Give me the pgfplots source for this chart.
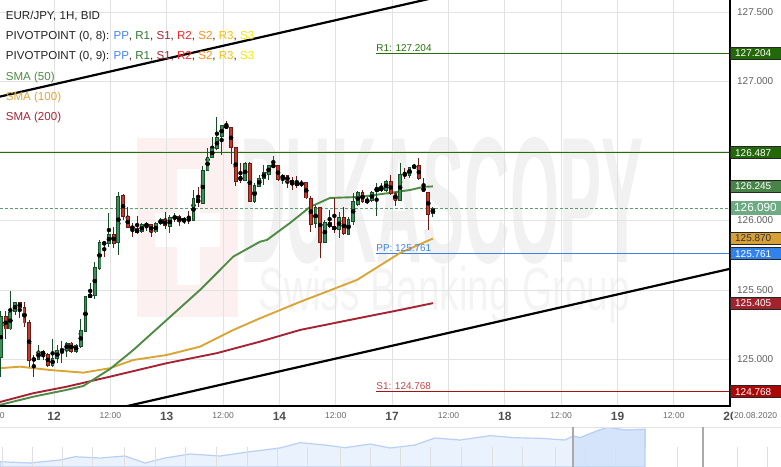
\documentclass[border=0pt]{standalone}
\usepackage{pgfplots}
\pgfplotsset{compat=1.18}
\usepackage{pgfplotstable}
\usepackage{graphicx}
\usepackage{fontspec}
\setmainfont{Liberation Sans}

\definecolor{upfill}{RGB}{66,140,92}
\definecolor{upedge}{RGB}{22,78,40}
\definecolor{dnfill}{RGB}{196,58,44}
\definecolor{dnedge}{RGB}{105,28,22}
\definecolor{gridgray}{RGB}{226,226,226}
\definecolor{tickgray}{RGB}{95,95,95}
\definecolor{daygray}{RGB}{80,80,80}
\definecolor{hrgray}{RGB}{105,105,105}
\definecolor{r1col}{RGB}{38,110,12}
\definecolor{ppcol}{RGB}{60,130,230}
\definecolor{s1col}{RGB}{165,20,20}
\definecolor{s1txt}{RGB}{195,70,70}
\definecolor{curcol}{RGB}{95,155,115}
\definecolor{smaA}{RGB}{78,140,68}
\definecolor{smaB}{RGB}{218,165,55}
\definecolor{smaC}{RGB}{165,35,50}
\definecolor{boxA}{RGB}{35,105,10}
\definecolor{boxB}{RGB}{72,132,72}
\definecolor{boxC}{RGB}{110,170,132}
\definecolor{boxD}{RGB}{215,160,55}
\definecolor{boxE}{RGB}{50,130,235}
\definecolor{boxF}{RGB}{160,35,45}
\definecolor{boxG}{RGB}{170,8,8}
\definecolor{lgdark}{RGB}{35,35,35}
\definecolor{ppleg}{RGB}{66,133,244}
\definecolor{r1leg}{RGB}{45,120,45}
\definecolor{s1leg}{RGB}{175,35,50}
\definecolor{r2leg}{RGB}{250,40,40}
\definecolor{s2leg}{RGB}{255,140,30}
\definecolor{r3leg}{RGB}{250,190,0}
\definecolor{s3leg}{RGB}{245,230,0}
\definecolor{wmpink}{RGB}{253,240,240}
\definecolor{wmgray}{RGB}{241,241,241}
\definecolor{wmgray2}{RGB}{244,244,244}
\definecolor{navfill}{RGB}{234,242,253}
\definecolor{navsel}{RGB}{213,228,250}
\definecolor{navline}{RGB}{185,208,245}
\definecolor{navtick}{RGB}{222,222,222}
\definecolor{navdiv}{RGB}{170,170,170}

\newcommand\lgfont{\fontsize{11.6}{13}\selectfont}
\newcommand\boxfont{\fontsize{10}{10}\selectfont}
\newcommand\dayfont{\fontsize{12}{12}\selectfont\bfseries}
\newcommand\hrfont{\fontsize{8.6}{9}\selectfont}
\newcommand\dl[1]{{\dayfont\color{daygray}#1}}
\newcommand\hl{{\hrfont\color{hrgray}12:00}}
\newcommand\pivline[1]{PIVOTPOINT (0, #1): \textcolor{ppleg}{PP}, \textcolor{r1leg}{R1}, \textcolor{s1leg}{S1}, \textcolor{r2leg}{R2}, \textcolor{s2leg}{S2}, \textcolor{r3leg}{R3}, \textcolor{s3leg}{S3}}
\newcommand\pricebox[4]{%
  \draw[fill=#2, draw=black!85, line width=0.8bp] ([xshift=0.5bp,yshift=-6bp]#1) rectangle ([xshift=51.5bp,yshift=6bp]#1);
  \node[anchor=west, inner sep=0pt, text=#3, font=\boxfont] at ([xshift=5bp]#1) {#4};}

% hourly candles: x = hour index (weekend removed), open high low close
\pgfplotstableread{
x o h l c
12.7 125.009 125.349 124.872 125.313
14.7 125.217 125.493 125.215 125.344
15.7 125.340 125.415 125.320 125.412
19.7 124.991 125.032 124.872 125.009
20.7 125.000 125.104 124.996 125.061
23.7 124.955 125.145 124.944 125.009
24.7 125.004 125.104 124.973 125.068
25.7 125.056 125.135 124.977 125.076
26.7 125.063 125.128 125.016 125.121
28.7 125.056 125.109 125.049 125.104
29.7 125.092 125.289 125.081 125.212
30.7 125.200 125.457 125.196 125.457
31.7 125.445 125.548 125.440 125.471
32.7 125.460 125.704 125.440 125.668
33.7 125.649 125.860 125.644 125.847
35.7 125.829 126.052 125.812 125.903
37.7 125.836 126.207 125.752 126.178
42.7 125.915 125.984 125.912 125.973
43.7 125.963 125.991 125.927 125.973
45.7 125.915 125.991 125.912 125.980
46.7 125.973 126.020 125.968 126.009
48.7 125.955 126.040 125.912 126.023
49.7 126.011 126.052 125.991 126.032
51.7 125.991 126.023 125.975 126.016
53.7 125.999 126.219 125.997 126.160
55.7 126.119 126.392 126.119 126.363
56.7 126.356 126.519 126.356 126.459
57.7 126.452 126.599 126.447 126.519
58.7 126.512 126.742 126.507 126.599
59.7 126.599 126.687 126.471 126.687
64.7 126.286 126.419 126.284 126.412
66.7 126.131 126.272 126.128 126.255
67.7 126.243 126.327 126.243 126.308
68.7 126.299 126.399 126.255 126.347
69.7 126.332 126.399 126.291 126.399
70.7 126.387 126.464 126.376 126.399
72.7 126.299 126.335 126.263 126.327
76.7 126.250 126.291 126.243 126.279
79.7 125.973 126.112 125.944 126.095
81.7 125.840 126.004 125.840 125.991
84.7 125.932 126.063 125.872 126.023
86.7 125.896 126.027 125.896 126.011
87.7 125.991 126.196 125.968 126.140
88.7 126.112 126.214 126.107 126.203
90.7 126.126 126.171 126.119 126.153
91.7 126.140 126.214 126.135 126.205
92.7 126.205 126.268 126.032 126.241
94.7 126.214 126.291 126.207 126.286
97.7 126.142 126.412 126.142 126.335
99.7 126.322 126.387 126.304 126.387
100.7 126.376 126.406 126.369 126.399
104.7 126.045 126.099 126.027 126.090
}\upcandles

\pgfplotstableread{
x o h l c
13.7 125.313 125.349 125.145 125.217
16.7 125.412 125.415 125.296 125.368
17.7 125.376 125.412 125.236 125.260
18.7 125.268 125.284 124.948 124.991
21.7 125.061 125.068 124.996 125.027
22.7 125.040 125.049 124.948 124.955
27.7 125.121 125.128 125.049 125.056
34.7 125.843 125.847 125.740 125.829
36.7 125.903 125.951 125.800 125.831
38.7 126.183 126.191 126.004 126.023
39.7 126.032 126.095 125.944 125.948
40.7 125.960 125.984 125.879 125.937
41.7 125.944 126.032 125.903 125.908
44.7 125.973 125.975 125.879 125.915
47.7 126.009 126.063 125.937 125.960
50.7 126.032 126.040 125.963 125.991
52.7 126.016 126.068 125.973 125.999
54.7 126.160 126.243 126.099 126.124
60.7 126.687 126.716 126.658 126.663
61.7 126.671 126.671 126.404 126.519
62.7 126.527 126.527 126.250 126.279
63.7 126.320 126.412 126.272 126.284
65.7 126.412 126.419 126.131 126.131
71.7 126.399 126.399 126.284 126.291
73.7 126.327 126.327 126.232 126.279
74.7 126.291 126.315 126.219 126.263
75.7 126.279 126.320 126.232 126.250
77.7 126.275 126.275 126.153 126.160
78.7 126.160 126.176 125.919 125.968
80.7 126.095 126.099 125.728 125.840
82.7 125.991 126.076 125.944 125.951
83.7 125.960 126.160 125.908 125.932
85.7 126.023 126.095 125.896 125.901
89.7 126.203 126.219 126.126 126.133
93.7 126.241 126.268 126.207 126.214
95.7 126.286 126.327 126.183 126.191
96.7 126.200 126.207 126.107 126.142
98.7 126.340 126.376 126.296 126.322
101.7 126.399 126.447 126.291 126.296
102.7 126.243 126.304 126.203 126.207
103.7 126.207 126.207 125.932 126.040
}\downcandles

\pgfplotstableread{
x y
12.5 124.673
19.59 124.732
26.70 124.781
30.24 124.809
35.92 124.931
40.89 125.068
47.99 125.284
55.09 125.500
62.18 125.740
67.87 125.847
69.36 125.860
74.26 125.982
78.52 126.097
82.78 126.162
89.17 126.169
95.56 126.198
99.82 126.219
102.58 126.241
104.7 126.245
}\smafifty

\pgfplotstableread{
x y
12.5 124.937
16.76 124.948
23.14 124.924
30.24 124.905
35.92 124.937
40.89 124.996
47.99 125.032
55.09 125.092
62.18 125.212
67.87 125.296
76.38 125.414
88.52 125.572
97.68 125.766
104.7 125.870
}\smahundred

\pgfplotstableread{
x y
12.5 124.694
19.59 124.757
26.70 124.804
35.92 124.876
47.99 124.973
58.65 125.045
67.87 125.128
76.38 125.212
89.17 125.299
97.68 125.356
104.7 125.405
}\smatwohundred

\pgfplotstableread{
x y
0 5.3
30 4
60 7
75 10.3
100 9
125 11
145 4
165 9
190 13
220 11
250 15.3
280 19
300 24.3
325 22
345 19.3
370 23
390 19
415 22
435 29
460 27
490 31.3
515 29.3
540 28.7
565 27
573 31
580 29.3
595 35.3
607.5 39.7
625 37
645 37.7
}\navall

\pgfplotstableread{
x y
573 31
580 29.3
595 35.3
607.5 39.7
625 37
645 37.7
}\navselected

\begin{document}
\begin{tikzpicture}
% watermark
\fill[wmpink] (137bp,89bp) rectangle (238bp,268bp);
\fill[white] (177bp,121bp) rectangle (200bp,237bp);
\fill[white] (155bp,159bp) rectangle (220bp,193bp);
\node[anchor=north west, inner sep=0pt, text=wmgray] at (240bp,269bp) {\resizebox{403bp}{125bp}{\bfseries DUKASCOPY}};
\node[anchor=north west, inner sep=0pt, text=wmgray2] at (258bp,140bp) {\resizebox{372bp}{44bp}{Swiss Banking Group}};

\begin{axis}[
  at={(0,0)}, anchor=south west,
  scale only axis, width=730bp, height=406bp,
  xmin=12.5, xmax=167.95, ymin=124.665, ymax=127.586,
  clip mode=individual,
  axis line style={draw=none},
  major tick length=0pt,
  xtick={24,36,...,156},
  xticklabels={\dl{12},\hl,\dl{13},\hl,\dl{14},\hl,\dl{17},\hl,\dl{18},\hl,\dl{19},\hl},
  xticklabel style={anchor=center, inner sep=0pt, yshift=-10bp},
  ytick={125,125.5,126,126.5,127,127.5},
  yticklabels={125.000,125.500,126.000,{},127.000,127.500},
  yticklabel pos=right,
  yticklabel style={anchor=west, inner sep=0pt, xshift=7bp, font=\fontsize{10}{10}\selectfont, text=tickgray},
  grid=major,
  major grid style={draw=gridgray, line width=0.8bp},
]
% pivot and level lines
\addplot[r1col, line width=1.1bp] coordinates {(12.5,126.487) (167.95,126.487)};
\addplot[r1col, line width=1bp] coordinates {(92.6,127.204) (167.95,127.204)};
\addplot[ppcol, line width=1bp] coordinates {(92.6,125.761) (167.95,125.761)};
\addplot[s1col, line width=1bp] coordinates {(92.6,124.768) (167.95,124.768)};
\addplot[curcol, line width=0.8bp, dash pattern=on 3bp off 2bp] coordinates {(12.5,126.090) (167.95,126.090)};
% moving averages
\addplot[smaC, line width=1.9bp] table[x=x,y=y] {\smatwohundred};
\addplot[smaB, line width=1.9bp] table[x=x,y=y] {\smahundred};
\addplot[smaA, line width=1.9bp] table[x=x,y=y] {\smafifty};
% trend channel
\addplot[black, line width=2.2bp] coordinates {(12.5,126.891) (110,127.641)};
\addplot[black, line width=2.2bp] coordinates {(36,124.637) (167.95,125.652)};
% candles: wicks
\addplot[only marks, mark=none, error bars/.cd, y dir=both, y explicit, error mark=none,
  error bar style={line width=1bp, draw=upedge}]
  table[x=x, y expr={(\thisrow{h}+\thisrow{l})/2}, y error expr={(\thisrow{h}-\thisrow{l})/2}] {\upcandles};
\addplot[only marks, mark=none, error bars/.cd, y dir=both, y explicit, error mark=none,
  error bar style={line width=1bp, draw=dnedge}]
  table[x=x, y expr={(\thisrow{h}+\thisrow{l})/2}, y error expr={(\thisrow{h}-\thisrow{l})/2}] {\downcandles};
% candles: bodies (edge)
\addplot[only marks, mark=none, error bars/.cd, y dir=both, y explicit, error mark=none,
  error bar style={line width=3.8bp, draw=upedge}]
  table[x=x, y expr={(\thisrow{o}+\thisrow{c})/2}, y error expr={max(abs(\thisrow{c}-\thisrow{o})/2,0.004)}] {\upcandles};
\addplot[only marks, mark=none, error bars/.cd, y dir=both, y explicit, error mark=none,
  error bar style={line width=3.8bp, draw=dnedge}]
  table[x=x, y expr={(\thisrow{o}+\thisrow{c})/2}, y error expr={max(abs(\thisrow{c}-\thisrow{o})/2,0.004)}] {\downcandles};
% candles: bodies (fill)
\addplot[only marks, mark=none, error bars/.cd, y dir=both, y explicit, error mark=none,
  error bar style={line width=1.9bp, draw=upfill}]
  table[x=x, y expr={(\thisrow{o}+\thisrow{c})/2}, y error expr={max(abs(\thisrow{c}-\thisrow{o})/2-0.0065,0)}] {\upcandles};
\addplot[only marks, mark=none, error bars/.cd, y dir=both, y explicit, error mark=none,
  error bar style={line width=1.9bp, draw=dnfill}]
  table[x=x, y expr={(\thisrow{o}+\thisrow{c})/2}, y error expr={max(abs(\thisrow{c}-\thisrow{o})/2-0.0065,0)}] {\downcandles};
% pivot labels
\node[anchor=south west, inner sep=0pt, yshift=1.5bp, font=\fontsize{10}{10}\selectfont, text=r1col] at (axis cs:92.6,127.204) {R1: 127.204};
\node[anchor=south west, inner sep=0pt, yshift=2bp, font=\fontsize{10}{10}\selectfont, text=ppcol] at (axis cs:92.6,125.761) {PP: 125.761};
\node[anchor=south west, inner sep=0pt, yshift=1.5bp, font=\fontsize{10}{10}\selectfont, text=s1txt] at (axis cs:92.6,124.768) {S1: 124.768};
% anchors for the price boxes
\coordinate (bA) at (axis cs:167.95,127.204);
\coordinate (bB) at (axis cs:167.95,126.487);
\coordinate (bC) at (axis cs:167.95,126.245);
\coordinate (bD) at (axis cs:167.95,126.090);
\coordinate (bE) at (axis cs:167.95,125.870);
\coordinate (bF) at (axis cs:167.95,125.761);
\coordinate (bG) at (axis cs:167.95,125.405);
\coordinate (bH) at (axis cs:167.95,124.768);
\end{axis}

% axis lines
\draw[black, line width=1.2bp] (0,0) -- (730bp,0) -- (730bp,406bp);

% price boxes
\pricebox{bA}{boxA}{white}{127.204}
\pricebox{bB}{boxA}{white}{126.487}
\pricebox{bC}{boxB}{white}{126.245}
\fill[boxC] ([xshift=0.5bp,yshift=-7bp]bD) rectangle ([xshift=52bp,yshift=7bp]bD);
\node[anchor=west, inner sep=0pt, text=white, font=\fontsize{11.8}{12}\selectfont] at ([xshift=4bp]bD) {126.090};
\pricebox{bE}{boxD}{black!80}{125.870}
\pricebox{bF}{boxE}{white}{125.761}
\pricebox{bG}{boxF}{white}{125.405}
\pricebox{bH}{boxG}{white}{124.768}

% partial date labels at the edges
\node[inner sep=0pt, font=\hrfont, text=hrgray] at (-6bp,-10bp) {12:00};
\node[inner sep=0pt, font=\dayfont, text=daygray] at (730bp,-10bp) {20};
\node[anchor=west, fill=white, inner sep=1bp, font=\hrfont, text=hrgray] at (733bp,-10bp) {20.08.2020};

% legend text
\node[anchor=base west, inner sep=0pt, font=\lgfont, text=lgdark] at (5.7bp,386.2bp) {EUR/JPY, 1H, BID};
\node[anchor=base west, inner sep=0pt, font=\lgfont, text=lgdark] at (5.7bp,366.2bp) {\pivline{8}};
\node[anchor=base west, inner sep=0pt, font=\lgfont, text=lgdark] at (5.7bp,346.2bp) {\pivline{9}};
\node[anchor=base west, inner sep=0pt, font=\lgfont, text=smaA] at (5.7bp,325.9bp) {SMA (50)};
\node[anchor=base west, inner sep=0pt, font=\lgfont, text=smaB] at (5.7bp,305.9bp) {SMA (100)};
\node[anchor=base west, inner sep=0pt, font=\lgfont, text=smaC] at (5.7bp,285.9bp) {SMA (200)};

% navigator
\begin{axis}[
  at={(0,-61bp)}, anchor=south west,
  scale only axis, width=781bp, height=40bp,
  xmin=0, xmax=781, ymin=0, ymax=40,
  hide axis,
]
\addplot[fill=navfill, draw=navline, line width=1.2bp] table[x=x,y=y] {\navall} \closedcycle;
\addplot[fill=navsel, draw=navline, line width=1.2bp] table[x=x,y=y] {\navselected} \closedcycle;
\addplot[ycomb, mark=none, navtick, line width=0.8bp] coordinates {(2.5,20) (32,20) (62,20) (92,20) (124,20) (155,20) (185,20) (216,20) (247,20) (277,20) (307,20) (340,20) (370,20) (400,20) (430,20) (461,20) (492,20) (522,20) (555,20) (585,20) (615,20) (645,20) (677,20) (737,20) (767,20)};
\addplot[gridgray, line width=0.8bp] coordinates {(0,40) (781,40)};
\addplot[ycomb, mark=none, navdiv, line width=1.6bp] coordinates {(573,40) (703,40)};
\end{axis}

\pgfresetboundingbox
\useasboundingbox (0,-61bp) rectangle (781bp,406bp);
\end{tikzpicture}
\end{document}
